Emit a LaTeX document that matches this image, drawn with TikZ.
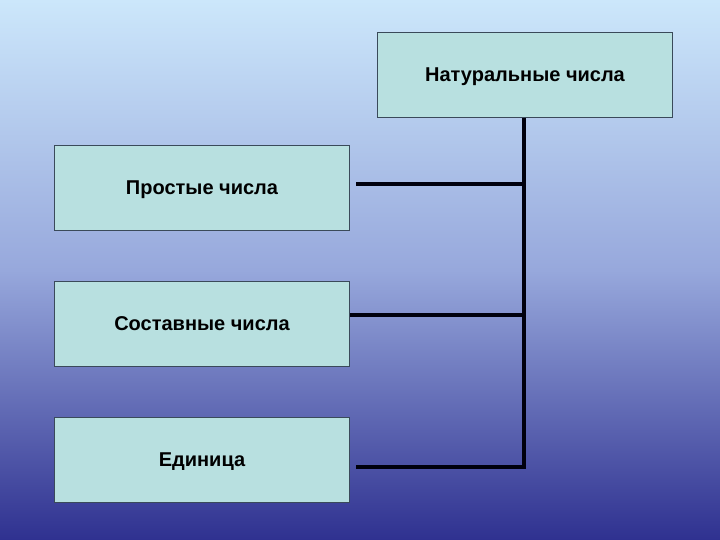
\documentclass[tikz,border=0pt]{standalone}
\usepackage{fontspec}
\setmainfont{Liberation Sans}
\definecolor{bgtop}{HTML}{CCE7FB}
\definecolor{bgmid}{HTML}{97A8DC}
\definecolor{bgbot}{HTML}{2F3190}
\definecolor{boxfill}{HTML}{B8E0E0}
\definecolor{boxline}{HTML}{3A4A5A}
\tikzset{
  catbox/.style={draw=boxline, line width=1pt, fill=boxfill, minimum width=295pt, minimum height=85pt, inner sep=0pt, text depth=0pt, font=\fontsize{20}{24}\selectfont\bfseries, text=black, anchor=north west},
  link/.style={draw=black!95!blue, line width=3.3pt}
}
\begin{document}
\begin{tikzpicture}[x=1pt,y=-1pt]
\useasboundingbox (0,0) rectangle (720,540);
\shade[top color=bgtop, bottom color=bgmid, shading angle=0] (0,0) rectangle (720,270);
\shade[top color=bgmid, bottom color=bgbot] (0,270) rectangle (720,540);
\node[catbox] (nat) at (377,32) {Натуральные числа};
\node[catbox] (prime) at (54,145) {Простые числа};
\node[catbox] (comp) at (54,281) {Составные числа};
\node[catbox] (one) at (54,417) {Единица};
\coordinate (trunk) at (524,0);
\coordinate (j1) at (trunk |- 0,184);
\coordinate (j2) at (trunk |- 0,315);
\coordinate (j3) at (trunk |- 0,467);
\draw[link] (nat.south -| trunk) -- (j3);
\draw[link] ([xshift=6pt]prime.east |- j1) -- (j1);
\draw[link] (comp.east |- j2) -- (j2);
\draw[link] ([xshift=6pt]one.east |- j3) -- ([xshift=1.65pt]j3);
\end{tikzpicture}
\end{document}
